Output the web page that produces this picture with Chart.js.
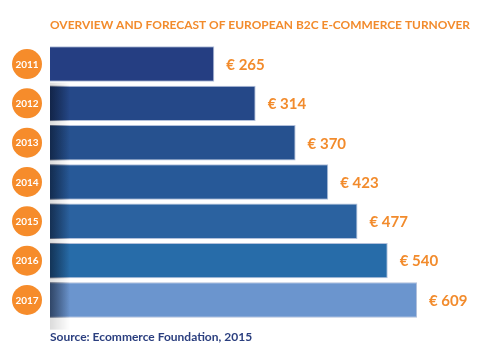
<!DOCTYPE html>
<html lang="en">
<head>
    <meta charset="UTF-8">
    <title>European B2C E-commerce Turnover</title>
    <script src="https://cdn.jsdelivr.net/npm/chart.js@4.4.1/dist/chart.umd.min.js"></script>
    <style>
        body {
            margin: 0;
            background: #ffffff;
        }
        .chart-box {
            width: 486px;
            height: 361px;
        }
    </style>
</head>
<body>
    <div class="chart-box">
        <canvas id="turnoverChart"></canvas>
    </div>

    <script>
        // data (billion euro)
        var years = ['2011', '2012', '2013', '2014', '2015', '2016', '2017'];
        var turnover = [265, 314, 370, 423, 477, 540, 609];

        var barColors = ['#253e82', '#254888', '#26518f', '#275998', '#2b62a0', '#276ca9', '#6b95ce'];
        var orange = '#f28b2c';

        // circles with the year + shading on the left side of the bars
        var sidePlugin = {
            id: 'sideDecor',
            afterDatasetsDraw: function(chart) {
                var ctx = chart.ctx;
                var bars = chart.getDatasetMeta(0).data;
                var left = chart.chartArea.left;

                ctx.save();
                // soft shadow over the white gaps
                var top = bars[1].y - bars[1].height / 2 - 3;
                var bottom = bars[bars.length - 1].y + bars[bars.length - 1].height / 2 + 12;
                var g1 = ctx.createLinearGradient(left, 0, left + 20, 0);
                g1.addColorStop(0, 'rgba(0,0,0,0.14)');
                g1.addColorStop(1, 'rgba(0,0,0,0)');
                ctx.fillStyle = g1;
                ctx.fillRect(left, top, 20, bottom - top);

                // darker shading on the bars themselves
                var g2 = ctx.createLinearGradient(left, 0, left + 20, 0);
                g2.addColorStop(0, 'rgba(5,12,30,0.5)');
                g2.addColorStop(1, 'rgba(5,12,30,0)');
                ctx.fillStyle = g2;
                bars.forEach(function(bar, i) {
                    if (i === 0) return;
                    ctx.fillRect(left, bar.y - bar.height / 2, 20, bar.height);
                });

                // year circles
                ctx.font = 'bold 10px Lato, sans-serif';
                ctx.textAlign = 'center';
                ctx.textBaseline = 'middle';
                bars.forEach(function(bar, i) {
                    ctx.beginPath();
                    ctx.arc(27, bar.y, 15, 0, Math.PI * 2);
                    ctx.fillStyle = '#f68c2b';
                    ctx.fill();
                    ctx.fillStyle = '#ffffff';
                    ctx.fillText(chart.data.labels[i], 27, bar.y + 0.5);
                });

                // value labels
                ctx.font = 'bold 15px Lato, sans-serif';
                ctx.textAlign = 'left';
                ctx.fillStyle = orange;
                bars.forEach(function(bar, i) {
                    ctx.fillText('\u20ac ' + chart.data.datasets[0].data[i], bar.x + 12, bar.y + 1);
                });
                ctx.restore();
            }
        };

        var ctx = document.getElementById('turnoverChart').getContext('2d');
        var turnoverChart = new Chart(ctx, {
            type: 'bar',
            data: {
                labels: years,
                datasets: [{
                    data: turnover,
                    backgroundColor: barColors,
                    borderColor: 'rgba(170,185,215,0.9)',
                    borderWidth: 1,
                    categoryPercentage: 1,
                    barPercentage: 0.9
                }]
            },
            options: {
                indexAxis: 'y',
                responsive: true,
                maintainAspectRatio: false,
                animation: false,
                layout: {
                    padding: { left: 50, right: 16, top: 0, bottom: 17 }
                },
                scales: {
                    x: {
                        type: 'logarithmic',
                        min: 135,
                        max: 757,
                        display: false
                    },
                    y: {
                        display: false
                    }
                },
                plugins: {
                    legend: { display: false },
                    tooltip: { enabled: false },
                    title: {
                        display: true,
                        text: 'OVERVIEW AND FORECAST OF EUROPEAN B2C E-COMMERCE TURNOVER',
                        align: 'start',
                        color: orange,
                        font: { family: 'Lato', size: 12, weight: 'bold', lineHeight: 1.2 },
                        padding: { top: 18, bottom: 12 }
                    },
                    subtitle: {
                        display: true,
                        position: 'bottom',
                        text: 'Source: Ecommerce Foundation, 2015',
                        align: 'start',
                        color: '#2b3f7f',
                        font: { family: 'Lato', size: 12, weight: 'bold', lineHeight: 1.2 },
                        padding: { top: 10, bottom: 0 }
                    }
                }
            },
            plugins: [sidePlugin]
        });
    </script>
</body>
</html>
